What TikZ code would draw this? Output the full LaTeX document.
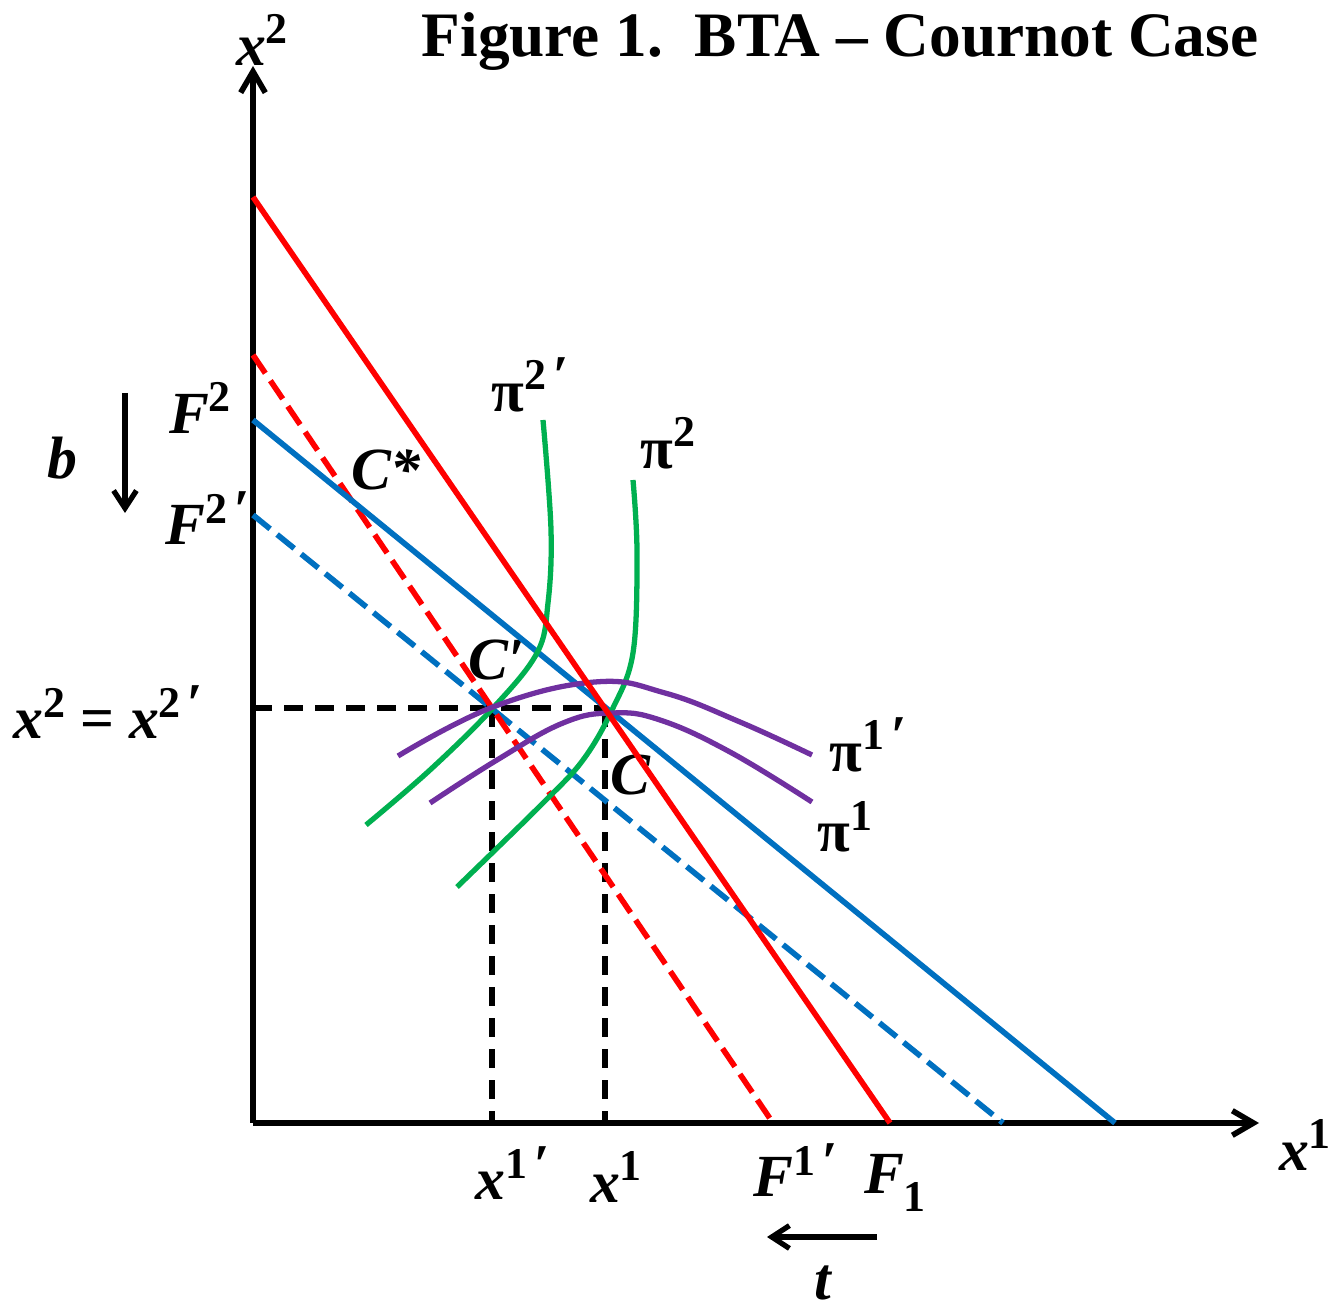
\documentclass[tikz,border=0pt]{standalone}
\usepackage{fontspec}
\setmainfont{Liberation Serif}
\usetikzlibrary{arrows.meta}
\definecolor{eblue}{RGB}{0,112,192}
\definecolor{egreen}{RGB}{0,176,80}
\definecolor{epurple}{RGB}{112,48,160}
\definecolor{ered}{RGB}{255,0,0}
\newcommand\su[1]{\raisebox{0.36em}{\fontsize{12.5}{13}\selectfont\upshape #1}}
\newcommand\spr{\kern0.1em\raisebox{0.28em}{\fontsize{16}{16}\selectfont\itshape ′}}
\newcommand\sub[1]{\raisebox{-0.3em}{\fontsize{12.5}{13}\selectfont\upshape #1}}
\newcommand\pii{{\upshape π}}
\begin{document}
\begin{tikzpicture}[x=0.01cm,y=-0.01cm,
  lbl/.style={font=\fontsize{17}{19}\selectfont\bfseries\itshape, inner sep=0pt},
  axisline/.style={line width=1.6pt, -{Straight Barb[length=6pt,width=7pt,line width=1.6pt]}},
  arrowline/.style={line width=1.5pt, -{Straight Barb[length=5pt,width=6.5pt,line width=1.5pt]}},
  redsolid/.style={ered, line width=1.6pt},
  reddash/.style={ered, line width=1.6pt, dash pattern=on 0.22cm off 0.09cm},
  bluesolid/.style={eblue, line width=1.6pt},
  bluedash/.style={eblue, line width=1.6pt, dash pattern=on 0.22cm off 0.09cm},
  blackdash/.style={black, line width=1.5pt, dash pattern=on 0.19cm off 0.12cm},
  gcurve/.style={egreen, line width=1.5pt},
  pcurve/.style={epurple, line width=1.5pt}]
\useasboundingbox (0,0) rectangle (1333,1310);

% coordinates
\coordinate (O) at (253,1123);
\coordinate (Ytop) at (253,66);
\coordinate (Xend) at (1259,1123);
\coordinate (RS1) at (253,197);
\coordinate (RS2) at (890,1123);
\coordinate (RD1) at (253,355);
\coordinate (RD2) at (773,1123);
\coordinate (BS1) at (253,420);
\coordinate (BS2) at (1115,1123);
\coordinate (BD1) at (253,515);
\coordinate (BD2) at (1003,1123);
\coordinate (Cp) at (492,708);
\coordinate (Cc) at (605,708);
\coordinate (Hx) at (253,708);
\coordinate (Vp) at (492,1123);
\coordinate (Vc) at (605,1123);

% title and labels
\node[font=\fontsize{18}{20}\selectfont\bfseries, inner sep=0pt] (title) at (840,42) {Figure 1.\ \ BTA – Cournot Case};
\node[lbl] (ylab) at (262,40) {x\su{2}};
\node[lbl] (xlab) at (1305,1145) {x\su{1}};
\node[lbl] (F2) at (200,408) {F\su{2}};
\node[lbl] (F2p) at (207,518) {F\su{2}\spr};
\node[lbl] (b) at (62,458) {b};
\node[lbl] (Cstar) at (386,470) {C*};
\node[lbl] (pi2p) at (530,385) {\pii\su{2}\spr};
\node[lbl] (pi2) at (668,443) {\pii\su{2}};
\node[lbl] (Cplab) at (497,660) {C′};
\node[lbl] (xeq) at (108,712) {x\su{2} {\upshape =} x\su{2}\spr};
\node[lbl] (Clab) at (630,775) {C};
\node[lbl] (pi1p) at (868,745) {\pii\su{1}\spr};
\node[lbl] (pi1) at (845,827) {\pii\su{1}};
\node[lbl] (x1p) at (512,1173) {x\su{1}\spr};
\node[lbl] (x1) at (616,1177) {x\su{1}};
\node[lbl] (F1p) at (795,1170) {F\su{1}\spr};
\node[lbl] (F1) at (895,1183) {F\sub{1}};
\node[lbl] (t) at (823,1283) {t};

% axes
\draw[axisline] (O) -- (Ytop);
\draw[axisline] (O) -- (Xend);

% small arrows
\coordinate (ba) at (125,393);
\coordinate (bb) at (125,513);
\draw[arrowline] (ba) -- (bb);
\coordinate (ta) at (877,1237);
\coordinate (tb) at (767,1237);
\draw[arrowline] (ta) -- (tb);

% dashed guides
\draw[blackdash] (Hx) -- (Cc);
\draw[blackdash] (Cp) -- (Vp);
\draw[blackdash] (Cc) -- (Vc);

% reaction lines
\draw[bluedash] (BD1) -- (BD2);
\draw[reddash] (RD1) -- (RD2);
\draw[bluesolid] (BS1) -- (BS2);

% iso-profit curves
\draw[gcurve] plot[smooth, tension=0.6] coordinates {(543,420) (551,530) (548,603) (537,653) (493,708) (430,770) (366,825)};
\draw[gcurve] plot[smooth, tension=0.6] coordinates {(633,480) (637,553) (633,653) (612,710) (583,760) (543,803) (457,887)};
\draw[pcurve] plot[smooth, tension=0.7] coordinates {(398,756) (493,707) (595,682) (665,693) (740,722) (812,755)};
\draw[pcurve] plot[smooth, tension=0.7] coordinates {(430,803) (497,760) (563,723) (612,713) (660,720) (730,752) (812,802)};

\draw[redsolid] (RS1) -- (RS2);
\end{tikzpicture}
\end{document}
